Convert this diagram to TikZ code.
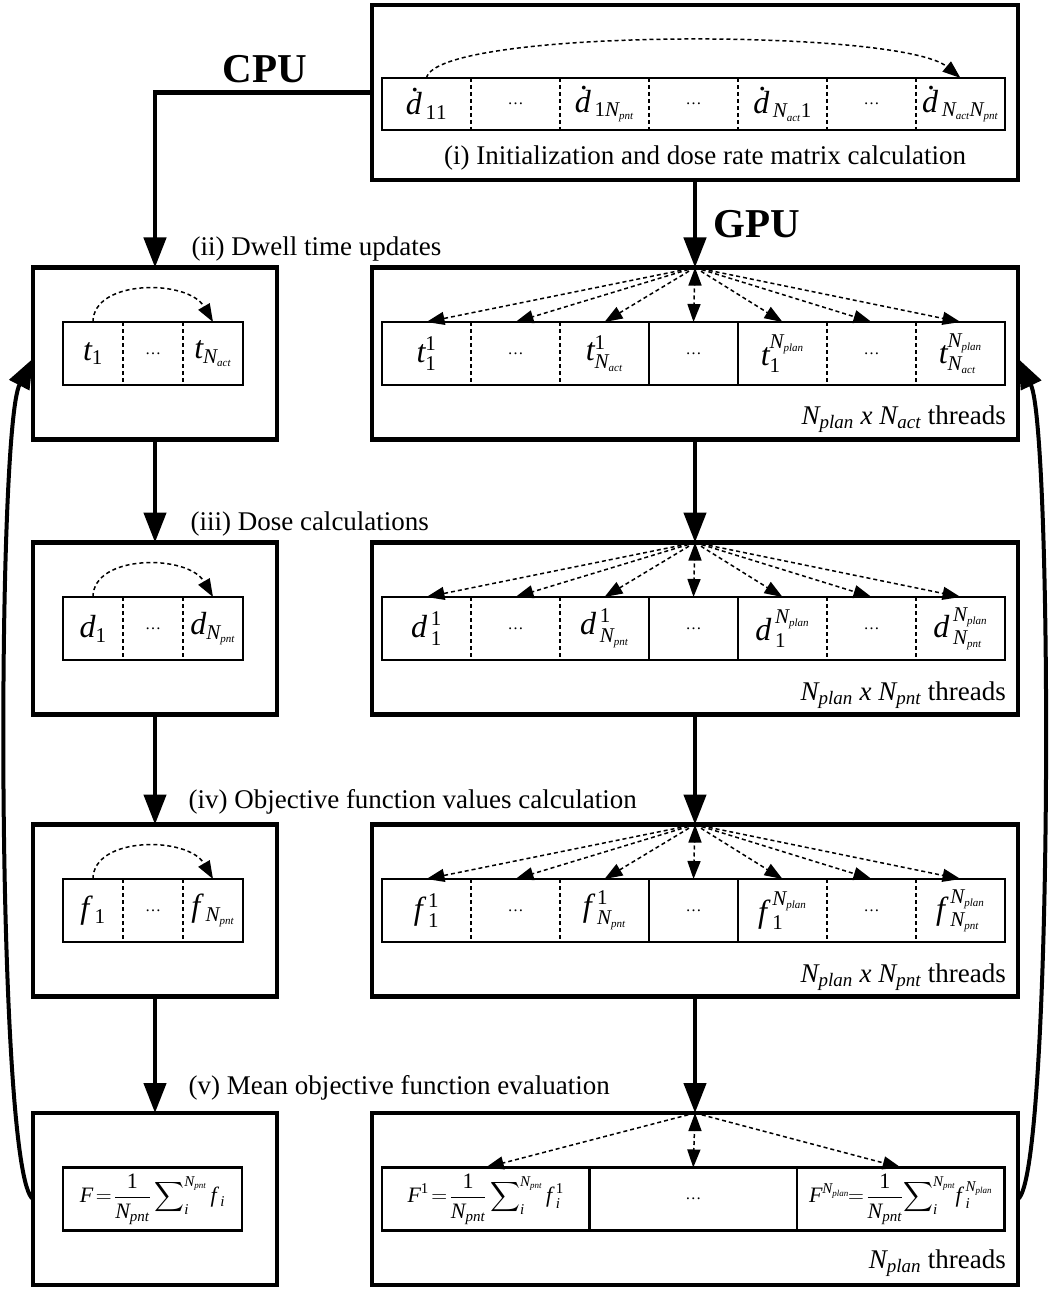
\RequirePackage{fix-cm}
\documentclass[tikz,border=0pt]{standalone}
\usepackage{amsmath}
\usepackage{mathspec}
\setmainfont{Liberation Serif}
\setmathsfont(Digits,Latin){Liberation Serif}
\usetikzlibrary{arrows.meta,positioning}
\DeclareMathSizes{32}{32}{21}{11}
\DeclareMathSizes{28}{28}{19}{11}
\DeclareMathSizes{27}{27}{19}{11}
\DeclareMathSizes{22}{22}{15}{9}

\begin{document}
\begin{tikzpicture}[x=1pt, y=-1pt,
	font=\fontsize{27}{32}\selectfont,
	box/.style={draw, line width=4.5pt, inner sep=0pt, outer sep=0pt},
	cell/.style={inner sep=0pt, outer sep=0pt, minimum height=\rhei, minimum width=\cwid, font=\fontsize{32}{38}\selectfont},
	lcell/.style={cell, minimum width=\lwid},
	row/.style={draw, line width=2.5pt},
	sep/.style={line width=1.5pt, dash pattern=on 4pt off 3pt},
	flow/.style={line width=4.5pt, -{Triangle[length=30pt, width=22pt]}},
	fan/.style={line width=1.5pt, dash pattern=on 4pt off 3pt, -{Triangle[length=18pt, width=13pt]}},
	thr/.style={anchor=base east, inner sep=0pt, font=\fontsize{27}{32}\selectfont},
	frm/.style={font=\fontsize{22}{26}\selectfont},
]
	\newcommand\cwid{89pt}
	\newcommand\lwid{60pt}
	\newcommand\rhei{63pt}
	\newcommand\bwid{646pt}
	\newcommand\lbwid{244pt}
	\newcommand\bhei{172pt}
	\newcommand\celldots{{\fontsize{16}{16}\selectfont …}}
	\newcommand\dd{\rlap{\kern5pt\raisebox{23pt}{.}}d\mkern2mu}
	\newcommand\ff{f\mkern3mu}
	\useasboundingbox (0,0) rectangle (1049,1289);

	% outer boxes
	\node[box, minimum width=\bwid, minimum height=175pt] (gi) at (695,92.5) {};
	\node[box, minimum width=\lbwid, minimum height=\bhei] (ca) at (155,353.5) {};
	\node[box, minimum width=\bwid, minimum height=\bhei] (ga) at (695,353.5) {};
	\node[box, minimum width=\lbwid, minimum height=\bhei] (cb) at (155,628.5) {};
	\node[box, minimum width=\bwid, minimum height=\bhei] (gb) at (695,628.5) {};
	\node[box, minimum width=\lbwid, minimum height=\bhei] (cc) at (155,910.5) {};
	\node[box, minimum width=\bwid, minimum height=\bhei] (gc) at (695,910.5) {};
	\node[box, minimum width=\lbwid, minimum height=\bhei] (cd) at (155,1199) {};
	\node[box, minimum width=\bwid, minimum height=\bhei] (gd) at (695,1199) {};

	% dose rate matrix
	\node[cell, minimum height=52pt, anchor=west] (i1) at (382,104) {$\dd_{11}$};
	\node[cell, minimum height=52pt, right=0pt of i1] (i2) {\celldots};
	\node[cell, minimum height=52pt, right=0pt of i2] (i3) {$\dd_{1N_{pnt}}$};
	\node[cell, minimum height=52pt, right=0pt of i3] (i4) {\celldots};
	\node[cell, minimum height=52pt, right=0pt of i4] (i5) {$\dd_{N_{act}1}$};
	\node[cell, minimum height=52pt, right=0pt of i5] (i6) {\celldots};
	\node[cell, minimum height=52pt, right=0pt of i6] (i7) {$\dd_{N_{act}N_{pnt}}$};
	\draw[row] (i1.north west) rectangle (i7.south east);
	\draw[sep] (i1.north east) -- (i1.south east) (i2.north east) -- (i2.south east)
		(i3.north east) -- (i3.south east) (i4.north east) -- (i4.south east)
		(i5.north east) -- (i5.south east) (i6.north east) -- (i6.south east);

	% CPU side
	\node[lcell, right=30pt of ca.west] (lt1) {$t_1$};
	\node[lcell, right=0pt of lt1] (lt2) {\celldots};
	\node[lcell, right=0pt of lt2] (lt3) {$t_{N_{act}}$};
	\node[lcell, right=30pt of cb.west] (ld1) {$d_1$};
	\node[lcell, right=0pt of ld1] (ld2) {\celldots};
	\node[lcell, right=0pt of ld2] (ld3) {$d_{N_{pnt}}$};
	\node[lcell, right=30pt of cc.west] (lf1) {$\ff_1$};
	\node[lcell, right=0pt of lf1] (lf2) {\celldots};
	\node[lcell, right=0pt of lf2] (lf3) {$\ff_{N_{pnt}}$};
	\node[lcell, row, frm, minimum width=179pt, right=30pt of cd.west] (lF)
		{$\displaystyle F\!=\!\frac{1}{N_{pnt}}\sum\nolimits_i^{N_{pnt}} \ff_i$};
	\draw[row] (lt1.north west) rectangle (lt3.south east)
		(ld1.north west) rectangle (ld3.south east)
		(lf1.north west) rectangle (lf3.south east);
	\draw[sep] (lt1.north east) -- (lt1.south east) (lt2.north east) -- (lt2.south east)
		(ld1.north east) -- (ld1.south east) (ld2.north east) -- (ld2.south east)
		(lf1.north east) -- (lf1.south east) (lf2.north east) -- (lf2.south east);

	% GPU side
	\node[cell, right=10pt of ga.west] (t1) {$t_1^1$};
	\node[cell, right=0pt of t1] (t2) {\celldots};
	\node[cell, right=0pt of t2] (t3) {$t_{N_{act}}^1$};
	\node[cell, right=0pt of t3] (t4) {\celldots};
	\node[cell, right=0pt of t4] (t5) {$t_1^{N_{plan}}$};
	\node[cell, right=0pt of t5] (t6) {\celldots};
	\node[cell, right=0pt of t6] (t7) {$t_{N_{act}}^{N_{plan}}$};
	\node[cell, right=10pt of gb.west] (d1) {$d\mkern2mu_1^1$};
	\node[cell, right=0pt of d1] (d2) {\celldots};
	\node[cell, right=0pt of d2] (d3) {$d\mkern2mu_{N_{pnt}}^1$};
	\node[cell, right=0pt of d3] (d4) {\celldots};
	\node[cell, right=0pt of d4] (d5) {$d\mkern2mu_1^{N_{plan}}$};
	\node[cell, right=0pt of d5] (d6) {\celldots};
	\node[cell, right=0pt of d6] (d7) {$d\mkern2mu_{N_{pnt}}^{N_{plan}}$};
	\node[cell, right=10pt of gc.west] (f1) {$\ff_1^1$};
	\node[cell, right=0pt of f1] (f2) {\celldots};
	\node[cell, right=0pt of f2] (f3) {$\ff_{N_{pnt}}^1$};
	\node[cell, right=0pt of f3] (f4) {\celldots};
	\node[cell, right=0pt of f4] (f5) {$\ff_1^{N_{plan}}$};
	\node[cell, right=0pt of f5] (f6) {\celldots};
	\node[cell, right=0pt of f6] (f7) {$\ff_{N_{pnt}}^{N_{plan}}$};
	\node[cell, frm, minimum width=207.5pt, right=10pt of gd.west] (F1)
		{$\displaystyle F^1\!=\!\frac{1}{N_{pnt}}\sum\nolimits_i^{N_{pnt}} \ff_i^1$};
	\node[cell, minimum width=207.5pt, right=0pt of F1] (F2) {\celldots};
	\node[cell, frm, minimum width=207.5pt, right=0pt of F2] (F3)
		{$\displaystyle F^{N_{plan}}\!\!=\!\frac{1}{N_{pnt}}\!\sum\nolimits_i^{N_{pnt}}\! \ff_i^{N_{plan}}$};
	\draw[row] (t1.north west) rectangle (t7.south east)
		(d1.north west) rectangle (d7.south east)
		(f1.north west) rectangle (f7.south east)
		(F1.north west) rectangle (F3.south east);
	\draw[row] (t3.north east) -- (t3.south east) (t4.north east) -- (t4.south east)
		(d3.north east) -- (d3.south east) (d4.north east) -- (d4.south east)
		(f3.north east) -- (f3.south east) (f4.north east) -- (f4.south east)
		(F1.north east) -- (F1.south east) (F2.north east) -- (F2.south east);
	\draw[sep] (t1.north east) -- (t1.south east) (t2.north east) -- (t2.south east)
		(t5.north east) -- (t5.south east) (t6.north east) -- (t6.south east)
		(d1.north east) -- (d1.south east) (d2.north east) -- (d2.south east)
		(d5.north east) -- (d5.south east) (d6.north east) -- (d6.south east)
		(f1.north east) -- (f1.south east) (f2.north east) -- (f2.south east)
		(f5.north east) -- (f5.south east) (f6.north east) -- (f6.south east);

	% labels
	\node[anchor=base] (lbi) at (705,165) {(i) Initialization and dose rate matrix calculation};
	\node[anchor=base west] (lbii) at (188,255) {(ii) Dwell time updates};
	\node[anchor=base west] (lbiii) at (187,530) {(iii) Dose calculations};
	\node[anchor=base west] (lbiv) at (185,808) {(iv) Objective function values calculation};
	\node[anchor=base west] (lbv) at (185,1094) {(v) Mean objective function evaluation};
	\node[anchor=base, font=\fontsize{41}{48}\selectfont\bfseries] (cpu) at (265,83) {CPU};
	\node[anchor=base, font=\fontsize{41}{48}\selectfont\bfseries] (gpu) at (757,237) {GPU};
	\node[thr] (nta) at (1006,424) {$N_{plan}$ $x$ $N_{act}$ threads};
	\node[thr] (ntb) at (1006,700) {$N_{plan}$ $x$ $N_{pnt}$ threads};
	\node[thr] (ntc) at (1006,982) {$N_{plan}$ $x$ $N_{pnt}$ threads};
	\node[thr] (ntd) at (1006,1268) {$N_{plan}$ threads};

	% main flow
	\draw[flow] (gi.west) -| (ca.north);
	\draw[flow] (gi.south) -- (ga.north);
	\draw[flow] (ca.south) -- (cb.north);
	\draw[flow] (cb.south) -- (cc.north);
	\draw[flow] (cc.south) -- (cd.north);
	\draw[flow] (ga.south) -- (gb.north);
	\draw[flow] (gb.south) -- (gc.north);
	\draw[flow] (gc.south) -- (gd.north);
	% loop back
	\draw[flow, line width=4pt] (cd.west) .. controls (-4,1175) and (-4,430) .. ([yshift=-5pt]ca.west);
	\draw[flow, line width=4pt] (gd.east) .. controls (1053,1175) and (1053,430) .. ([yshift=-5pt]ga.east);

	% threads
	\draw[fan] (ga.north) edge (t1.north) edge (t2.north) edge (t3.north) edge (t4.north)
		edge (t5.north) edge (t6.north) edge (t7.north);
	\draw[fan] (gb.north) edge (d1.north) edge (d2.north) edge (d3.north) edge (d4.north)
		edge (d5.north) edge (d6.north) edge (d7.north);
	\draw[fan] (gc.north) edge (f1.north) edge (f2.north) edge (f3.north) edge (f4.north)
		edge (f5.north) edge (f6.north) edge (f7.north);
	\draw[fan] (gd.north) edge (F1.north) edge (F2.north) edge (F3.north);
	% sequential loops
	\draw[fan] (i1.north) .. controls +(10,-50) and +(-60,-50) .. (i7.north);
	\draw[fan] (lt1.north) .. controls +(0,-43) and +(-25,-43) .. (lt3.north);
	\draw[fan] (ld1.north) .. controls +(0,-43) and +(-25,-43) .. (ld3.north);
	\draw[fan] (lf1.north) .. controls +(0,-43) and +(-25,-43) .. (lf3.north);
\end{tikzpicture}
\end{document}
